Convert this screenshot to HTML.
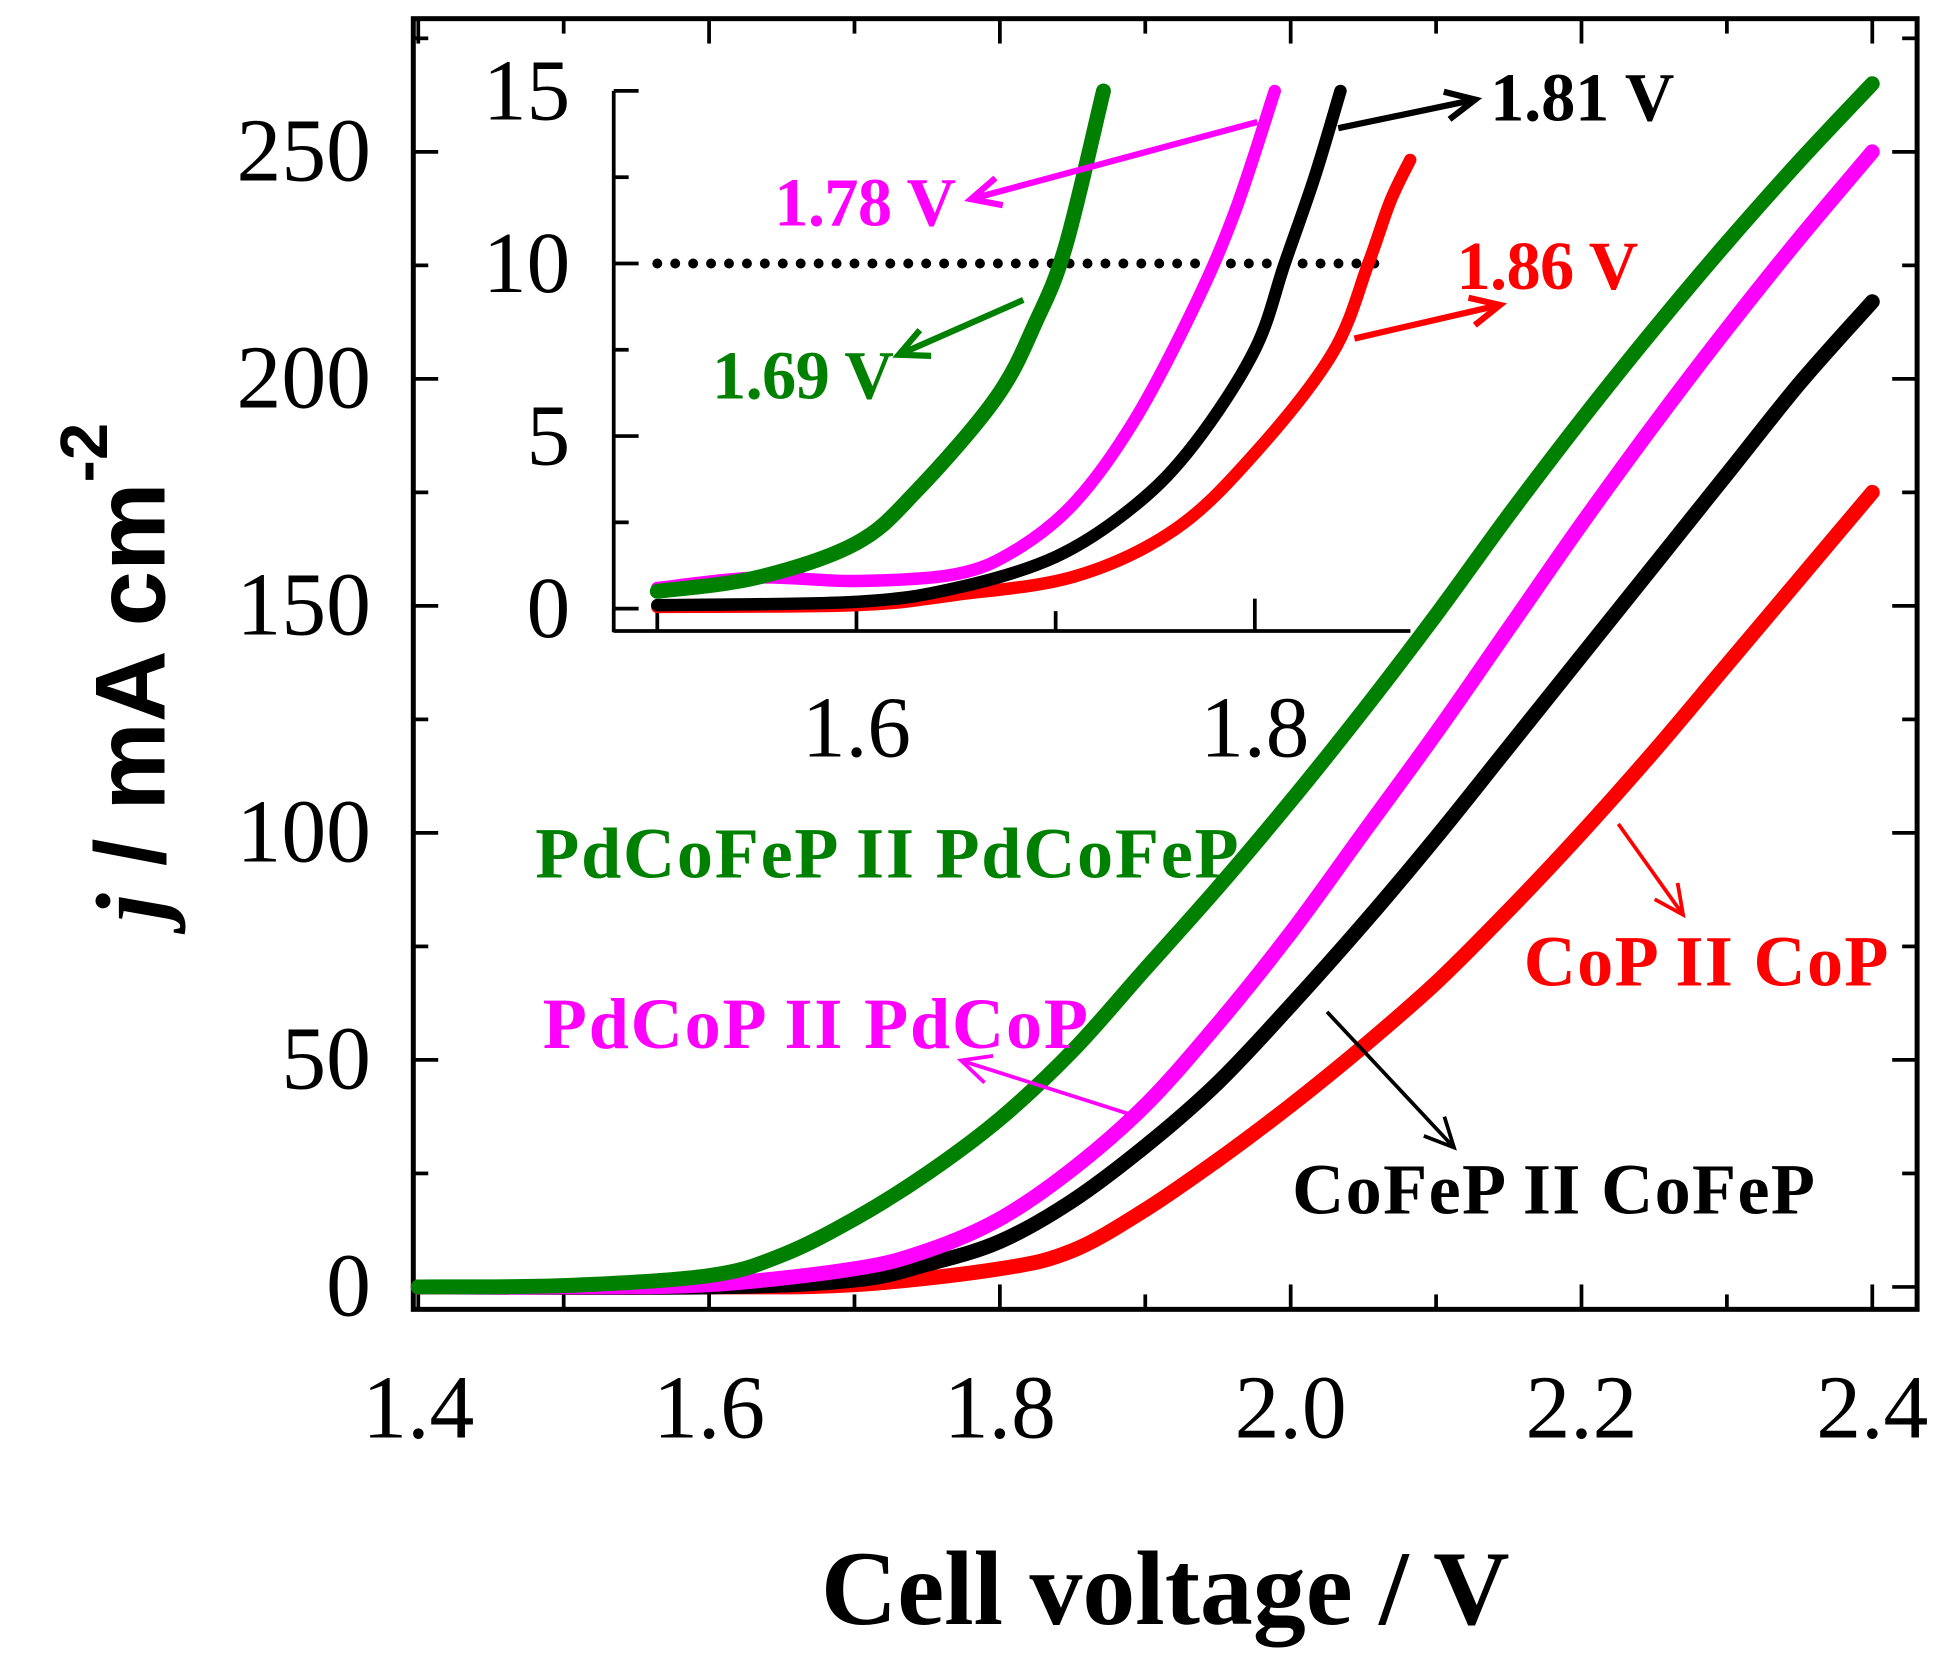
<!DOCTYPE html>
<html><head><meta charset="utf-8"><style>
html,body{margin:0;padding:0;background:#fff;}
svg{display:block;}
</style></head><body>
<svg id="chart" width="1942" height="1679" viewBox="0 0 1560 1349" preserveAspectRatio="none" xmlns="http://www.w3.org/2000/svg" font-family="'Liberation Serif', serif">
<g id="main"></g>
<g id="inset"></g>
<g id="ann">
<text transform="translate(132,540) rotate(-90)" text-anchor="middle" font-family="'Liberation Sans', sans-serif" font-weight="bold" font-size="80"><tspan font-style="italic" font-family="'Liberation Serif', serif">j</tspan> / mA cm<tspan dy="-46" font-size="54">-2</tspan></text>
<text x="936" y="1305" text-anchor="middle" font-weight="bold" font-size="85">Cell voltage / V</text>
<text x="430" y="705" fill="#008000" font-weight="bold" font-size="58" textLength="565">PdCoFeP II PdCoFeP</text>
<text x="436" y="842" fill="#ff00ff" font-weight="bold" font-size="58" textLength="438">PdCoP II PdCoP</text>
<text x="1038" y="975" fill="#000" font-weight="bold" font-size="58" textLength="420">CoFeP II CoFeP</text>
<text x="1224" y="792" fill="#ff0000" font-weight="bold" font-size="58" textLength="293">CoP II CoP</text>
<text x="622" y="181" fill="#ff00ff" font-weight="bold" font-size="55" textLength="146">1.78 V</text>
<text x="572" y="320" fill="#008000" font-weight="bold" font-size="55" textLength="146">1.69 V</text>
<text x="1197" y="97" fill="#000" font-weight="bold" font-size="55" textLength="148">1.81 V</text>
<text x="1170" y="232" fill="#ff0000" font-weight="bold" font-size="55" textLength="146">1.86 V</text>
</g>
</svg>
<script>
// Main chart data
const mainGreenV = [1.4,1.5,1.6,1.65,1.7,1.75,1.8,1.85,1.9,1.95,2.0,2.05,2.1,2.15,2.2,2.25,2.3,2.35,2.4];
const mainGreenJ = [0,0.3,2.5,7,15,25,37,52,70,88,107,127,148,170,191,211,230,248,265];
const mainPinkV = [1.4,1.5,1.6,1.7,1.75,1.8,1.85,1.9,1.95,2.0,2.05,2.1,2.15,2.2,2.25,2.3,2.35,2.4];
const mainPinkJ = [0,0,0.5,4,8,15,26,40,58,78,100,122,145,168,190,211,231,250];
const mainBlackV = [1.4,1.6,1.7,1.75,1.8,1.85,1.9,1.95,2.0,2.05,2.1,2.15,2.2,2.25,2.3,2.35,2.4];
const mainBlackJ = [0,0,1.5,5,10,19,31,45,62,80,99,119,139,159,179,199,217];
const mainRedV = [1.4,1.6,1.7,1.8,1.85,1.9,1.95,2.0,2.05,2.1,2.15,2.2,2.25,2.3,2.35,2.4];
const mainRedJ = [0,0,0.5,4,8,17,28,40,53,67,83,100,118,137,156,175];
const mainXTicks = [1.4,1.6,1.8,2.0,2.2,2.4];
const mainXTickLabels = ["1.4","1.6","1.8","2.0","2.2","2.4"];
const mainYTicks = [0,50,100,150,200,250];
const mainYTickLabels = ["0","50","100","150","200","250"];
// Inset data
const insGreenV = [1.5,1.55,1.6,1.63,1.67,1.69,1.705,1.724];
const insGreenJ = [0.5,0.9,1.9,3.4,6.1,8.3,10.5,15];
const insPinkV = [1.5,1.55,1.6,1.65,1.68,1.71,1.74,1.77,1.79,1.81];
const insPinkJ = [0.6,0.9,0.8,1.0,1.7,3.1,5.5,8.8,11.5,15];
const insBlackV = [1.5,1.6,1.65,1.7,1.74,1.77,1.8,1.815,1.83,1.843];
const insBlackJ = [0.1,0.2,0.6,1.5,3,4.8,7.5,10,12.5,15];
const insRedV = [1.5,1.6,1.65,1.71,1.76,1.8,1.839,1.857,1.868,1.878];
const insRedJ = [0.05,0.1,0.4,0.94,2.3,4.5,7.4,10,11.8,13];
const insXTickLabels = ["1.6","1.8"];
const insXTicks = [1.6,1.8];
const insYTicks = [0,5,10,15];
const insYTickLabels = ["0","5","10","15"];

const NS="http://www.w3.org/2000/svg";
function mk(parent,tag,attrs){const e=document.createElementNS(NS,tag);for(const k in attrs)e.setAttribute(k,attrs[k]);parent.appendChild(e);return e;}
const main=document.getElementById('main'), inset=document.getElementById('inset'), ann=document.getElementById('ann');
const mx=v=>336+(v-1.4)*1168, my=j=>1034-j*3.648;
const ix=v=>528+(v-1.5)*1600, iy=j=>489-j*27.73;

const frame=mk(main,'rect',{x:332,y:15,width:1208,height:1037,fill:'none',stroke:'#000','stroke-width':4});


for(let v=1.4;v<=2.401;v+=0.1){const x=mx(v);const major=Math.abs(Math.round(v*10)%2)===0;const L=major?20:12;
 mk(main,'line',{x1:x,y1:1052,x2:x,y2:1052-L,stroke:'#000','stroke-width':3});
 mk(main,'line',{x1:x,y1:15,x2:x,y2:15+L,stroke:'#000','stroke-width':3});}
for(let j=0;j<=275;j+=25){const y=my(j);const L=(j%50===0)?20:12;
 mk(main,'line',{x1:332,y1:y,x2:332+L,y2:y,stroke:'#000','stroke-width':3});
 mk(main,'line',{x1:1540,y1:y,x2:1540-L,y2:y,stroke:'#000','stroke-width':3});}
mainXTicks.forEach((v,i)=>{const t=mk(main,'text',{x:mx(v),y:1155,'text-anchor':'middle','font-size':72});t.textContent=mainXTickLabels[i];
 
 });
mainYTicks.forEach((j,i)=>{const t=mk(main,'text',{x:298,y:my(j)+23,'text-anchor':'end','font-size':72});t.textContent=mainYTickLabels[i];
 
 });
function smooth(P){let d='M'+P[0][0].toFixed(1)+','+P[0][1].toFixed(1);
 for(let i=0;i<P.length-1;i++){const p0=P[Math.max(0,i-1)],p1=P[i],p2=P[i+1],p3=P[Math.min(P.length-1,i+2)];
  const c1=[p1[0]+(p2[0]-p0[0])/6,p1[1]+(p2[1]-p0[1])/6],c2=[p2[0]-(p3[0]-p1[0])/6,p2[1]-(p3[1]-p1[1])/6];
  d+=` C${c1[0].toFixed(1)},${c1[1].toFixed(1)} ${c2[0].toFixed(1)},${c2[1].toFixed(1)} ${p2[0].toFixed(1)},${p2[1].toFixed(1)}`;}
 return d;}
function line(parent,V,J,fx,fy,color,w,name){const P=V.map((v,i)=>[fx(v),fy(J[i])]);
 const p=mk(parent,'path',{d:smooth(P),fill:'none',stroke:color,'stroke-width':w,'stroke-linecap':'round','stroke-linejoin':'round'});
 
 }
line(main,mainRedV,mainRedJ,mx,my,'#ff0000',12,'series-cop');
line(main,mainBlackV,mainBlackJ,mx,my,'#000',12,'series-cofep');
line(main,mainPinkV,mainPinkJ,mx,my,'#ff00ff',12,'series-pdcop');
line(main,mainGreenV,mainGreenJ,mx,my,'#008000',12,'series-pdcofep');

mk(inset,'line',{x1:493,y1:73,x2:493,y2:508,stroke:'#000','stroke-width':3});
mk(inset,'line',{x1:493,y1:507,x2:1133,y2:507,stroke:'#000','stroke-width':3});
for(let j=0;j<=15;j+=2.5){const y=iy(j);const L=(j%5===0)?20:12;mk(inset,'line',{x1:493,y1:y,x2:493+L,y2:y,stroke:'#000','stroke-width':3});}
for(let v=1.5;v<=1.801;v+=0.1){const x=ix(v);mk(inset,'line',{x1:x,y1:507,x2:x,y2:v>1.75?481:491,stroke:'#000','stroke-width':3});}
insXTicks.forEach((v,i)=>{const t=mk(inset,'text',{x:ix(v),y:608,'text-anchor':'middle','font-size':70});t.textContent=insXTickLabels[i];
 
 });
insYTicks.forEach((j,i)=>{const t=mk(inset,'text',{x:458,y:iy(j)+23,'text-anchor':'end','font-size':70});t.textContent=insYTickLabels[i];
 
 });
const dots=mk(inset,'line',{x1:ix(1.5),y1:iy(10),x2:ix(1.861),y2:iy(10),stroke:'#000','stroke-width':8,'stroke-dasharray':'0 14.4','stroke-linecap':'round'});


line(inset,insRedV,insRedJ,ix,iy,'#ff0000',10,'inset-series-cop');
line(inset,insBlackV,insBlackJ,ix,iy,'#000',10,'inset-series-cofep');
line(inset,insPinkV,insPinkJ,ix,iy,'#ff00ff',10,'inset-series-pdcop');
line(inset,insGreenV,insGreenJ,ix,iy,'#008000',12,'inset-series-pdcofep');

function arrow(x1,y1,x2,y2,c,w,name){const g=mk(ann,'g',{});
 
 
 mk(g,'line',{x1:x1,y1:y1,x2:x2,y2:y2,stroke:c,'stroke-width':w});
 const a=Math.atan2(y2-y1,x2-x1),L=26,s=0.45;
 mk(g,'polyline',{points:`${x2-L*Math.cos(a-s)},${y2-L*Math.sin(a-s)} ${x2},${y2} ${x2-L*Math.cos(a+s)},${y2-L*Math.sin(a+s)}`,fill:'none',stroke:c,'stroke-width':w});}
arrow(1010,98,780,160,'#ff00ff',5,'arrow-178');
arrow(822,241,722,285,'#008000',5,'arrow-169');
arrow(1075,103,1185,80,'#000',5,'arrow-181');
arrow(1088,272,1205,245,'#ff0000',5,'arrow-186');
arrow(910,896,772,852,'#ff00ff',3,'arrow-pdcop');
arrow(1066,813,1168,922,'#000',3,'arrow-cofep');
arrow(1300,662,1352,735,'#ff0000',3,'arrow-cop');
</script>
</body></html>
